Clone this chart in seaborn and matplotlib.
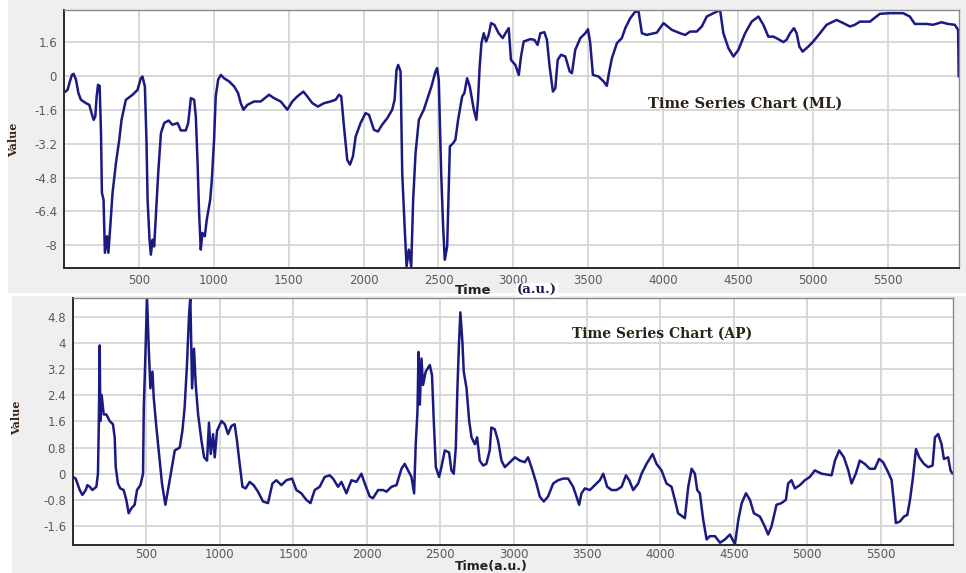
import numpy as np                      # arrays
import pandas as pd                     # data frames for seaborn
import matplotlib
matplotlib.use("Agg")
import matplotlib.pyplot as plt         # plotting
import seaborn as sns                   # line plots
from matplotlib.patches import Rectangle

# ---- data ----
ml_time = [0, 24, 36, 53, 64, 80, 96, 113, 147, 169, 184, 198, 209, 218, 227, 238, 247, 253, 264, 273,
           287, 296, 309, 324, 347, 369, 384, 413, 458, 491, 513, 524, 540, 551, 558, 571, 580, 591, 602, 613,
           629, 647, 669, 698, 724, 758, 780, 813, 829, 847, 869, 880, 891, 902, 913, 924, 940, 953, 976, 987,
           1002, 1013, 1029, 1047, 1069, 1102, 1136, 1162, 1180, 1198, 1224, 1269, 1313, 1369, 1402, 1447, 1491, 1524, 1558, 1598,
           1624, 1658, 1695, 1736, 1780, 1813, 1836, 1851, 1869, 1891, 1909, 1929, 1947, 1980, 2013, 2036, 2069, 2096, 2124, 2158,
           2191, 2207, 2220, 2231, 2247, 2258, 2275, 2287, 2302, 2318, 2331, 2347, 2369, 2402, 2424, 2453, 2480, 2491, 2502, 2518,
           2531, 2542, 2558, 2576, 2598, 2613, 2631, 2658, 2673, 2691, 2709, 2736, 2753, 2764, 2775, 2787, 2802, 2818, 2835, 2851,
           2873, 2902, 2929, 2947, 2969, 2984, 3013, 3036, 3051, 3069, 3113, 3140, 3162, 3180, 3207, 3224, 3242, 3264, 3280, 3296,
           3318, 3347, 3376, 3391, 3413, 3447, 3480, 3498, 3513, 3531, 3569, 3602, 3624, 3638, 3658, 3691, 3724, 3747, 3780, 3813,
           3836, 3858, 3891, 3913, 3958, 4002, 4058, 4113, 4147, 4180, 4224, 4258, 4291, 4336, 4380, 4402, 4436, 4469, 4502, 4547,
           4591, 4636, 4669, 4702, 4736, 4769, 4802, 4824, 4847, 4873, 4891, 4909, 4931, 4969, 5002, 5047, 5091, 5158, 5202, 5247,
           5280, 5313, 5380, 5447, 5513, 5602, 5647, 5680, 5758, 5802, 5858, 5902, 5947, 5969, 5973]
ml_value = [-0.78, -0.65, -0.33, 0.06, 0.11, -0.17, -0.8, -1.12, -1.28, -1.36, -1.75, -2.07, -1.91, -0.96, -0.41, -0.46, -2.68, -5.52, -5.85, -8.36,
            -7.58, -8.36, -7.11, -5.53, -4.1, -3.01, -2.07, -1.12, -0.88, -0.65, -0.1, -0.02, -0.49, -3.17, -5.85, -7.74, -8.45, -7.74, -8.06, -6.64,
            -4.59, -2.7, -2.22, -2.1, -2.3, -2.22, -2.57, -2.57, -2.22, -1.04, -1.12, -1.91, -3.96, -6.48, -8.21, -7.42, -7.58, -6.8, -5.85, -4.9,
            -3.01, -0.96, -0.17, 0.06, -0.1, -0.25, -0.49, -0.8, -1.28, -1.59, -1.36, -1.2, -1.2, -0.88, -1.04, -1.2, -1.59, -1.2, -0.96, -0.73,
            -0.96, -1.28, -1.44, -1.28, -1.2, -1.12, -0.88, -0.96, -2.38, -3.96, -4.19, -3.8, -2.86, -2.22, -1.75, -1.83, -2.54, -2.62, -2.3, -1.99,
            -1.59, -1.12, 0.3, 0.53, 0.22, -4.59, -7.27, -9.0, -8.21, -9.0, -5.85, -3.64, -2.07, -1.59, -1.12, -0.49, 0.22, 0.38, -0.17, -4.59,
            -7.11, -8.69, -8.06, -3.33, -3.17, -3.01, -2.07, -0.96, -0.8, -0.1, -0.49, -1.59, -2.07, -1.12, 0.45, 1.56, 2.03, 1.64, 1.95, 2.51,
            2.43, 2.03, 1.8, 2.03, 2.27, 0.77, 0.53, 0.06, 0.93, 1.64, 1.75, 1.72, 1.48, 2.03, 2.08, 1.72, 0.45, -0.73, -0.57, 0.77,
            1.01, 0.93, 0.22, 0.14, 1.24, 1.8, 2.03, 2.22, 1.56, 0.06, -0.02, -0.25, -0.46, 0.14, 0.85, 1.56, 1.8, 2.27, 2.74, 3.05,
            3.05, 2.03, 1.95, 1.99, 2.06, 2.51, 2.19, 2.03, 1.95, 2.11, 2.11, 2.35, 2.82, 2.98, 3.13, 2.03, 1.32, 0.93, 1.24, 2.03,
            2.58, 2.82, 2.43, 1.87, 1.87, 1.75, 1.61, 1.72, 2.03, 2.27, 2.03, 1.4, 1.16, 1.4, 1.64, 2.03, 2.43, 2.66, 2.51, 2.35,
            2.43, 2.58, 2.58, 2.95, 2.98, 2.98, 2.82, 2.47, 2.47, 2.43, 2.55, 2.47, 2.43, 2.19, -0.02]

ap_time = [0, 18, 46, 64, 87, 98, 114, 132, 159, 170, 176, 182, 186, 195, 209, 227, 250, 272, 284, 291,
           306, 322, 345, 363, 379, 397, 420, 436, 459, 477, 482, 493, 504, 516, 527, 541, 550, 568, 586, 606,
           629, 647, 670, 693, 727, 745, 760, 776, 790, 799, 811, 824, 836, 852, 875, 893, 913, 926, 938, 954,
           965, 981, 1011, 1034, 1056, 1079, 1101, 1117, 1135, 1154, 1176, 1203, 1230, 1260, 1294, 1328, 1358, 1385, 1419, 1453,
           1492, 1521, 1555, 1589, 1617, 1646, 1680, 1714, 1748, 1771, 1805, 1828, 1862, 1896, 1930, 1964, 1987, 2021, 2043, 2078,
           2112, 2135, 2169, 2203, 2237, 2259, 2282, 2305, 2323, 2334, 2346, 2353, 2362, 2373, 2384, 2402, 2430, 2445, 2457, 2471,
           2493, 2509, 2532, 2561, 2577, 2593, 2607, 2618, 2629, 2638, 2652, 2661, 2680, 2698, 2714, 2737, 2752, 2770, 2793, 2815,
           2838, 2849, 2872, 2895, 2918, 2941, 2975, 3010, 3043, 3077, 3099, 3122, 3156, 3179, 3206, 3235, 3270, 3304, 3338, 3372,
           3406, 3429, 3447, 3463, 3486, 3520, 3554, 3588, 3611, 3638, 3668, 3702, 3736, 3766, 3788, 3815, 3849, 3872, 3906, 3947,
           3974, 4008, 4042, 4076, 4099, 4121, 4167, 4190, 4213, 4235, 4251, 4269, 4292, 4315, 4337, 4372, 4406, 4440, 4474, 4508,
           4531, 4554, 4583, 4610, 4637, 4678, 4711, 4734, 4757, 4791, 4825, 4855, 4870, 4893, 4916, 4950, 4984, 5018, 5052, 5098,
           5166, 5189, 5218, 5250, 5280, 5302, 5331, 5358, 5392, 5426, 5460, 5490, 5517, 5551, 5575, 5591, 5604, 5632, 5659, 5682,
           5700, 5718, 5741, 5763, 5795, 5824, 5854, 5870, 5892, 5915, 5931, 5960, 5976, 5990]
ap_value = [-0.1, -0.15, -0.5, -0.65, -0.5, -0.35, -0.4, -0.5, -0.4, 0.0, 1.6, 3.92, 1.61, 2.41, 1.81, 1.81, 1.61, 1.51, 1.11, 0.2,
            -0.3, -0.45, -0.5, -0.8, -1.21, -1.06, -0.95, -0.5, -0.35, 0.0, 2.01, 3.62, 5.4, 3.82, 2.61, 3.12, 2.31, 1.41, 0.6, -0.3,
            -0.95, -0.5, 0.1, 0.71, 0.8, 1.31, 2.01, 3.32, 4.82, 5.4, 2.61, 3.82, 2.71, 1.81, 1.0, 0.5, 0.4, 1.56, 0.6, 1.21,
            0.5, 1.31, 1.61, 1.51, 1.21, 1.46, 1.51, 1.0, 0.3, -0.4, -0.45, -0.25, -0.35, -0.55, -0.85, -0.9, -0.3, -0.2, -0.35, -0.2,
            -0.15, -0.5, -0.6, -0.8, -0.9, -0.5, -0.4, -0.1, -0.05, -0.15, -0.4, -0.25, -0.6, -0.2, -0.25, 0.0, -0.3, -0.7, -0.75, -0.5,
            -0.5, -0.55, -0.4, -0.35, 0.15, 0.3, 0.1, -0.1, -0.6, 0.9, 1.91, 3.72, 2.11, 3.52, 2.71, 3.12, 3.32, 3.01, 1.61, 0.2,
            -0.1, 0.2, 0.71, 0.65, 0.1, 0.0, 0.8, 2.61, 4.02, 4.93, 4.02, 3.12, 2.61, 1.61, 1.11, 0.9, 1.11, 0.4, 0.25, 0.3,
            0.71, 1.41, 1.36, 1.0, 0.4, 0.2, 0.35, 0.5, 0.4, 0.35, 0.5, 0.2, -0.3, -0.7, -0.85, -0.7, -0.3, -0.2, -0.15, -0.15,
            -0.4, -0.7, -0.95, -0.6, -0.45, -0.5, -0.35, -0.2, 0.0, -0.4, -0.5, -0.5, -0.4, -0.05, -0.2, -0.5, -0.3, 0.0, 0.3, 0.6,
            0.3, 0.1, -0.3, -0.4, -0.8, -1.21, -1.36, -0.4, 0.15, 0.0, -0.5, -0.6, -1.41, -2.01, -1.91, -1.91, -2.11, -2.01, -1.86, -2.16,
            -1.41, -0.9, -0.6, -0.8, -1.21, -1.31, -1.61, -1.86, -1.61, -0.95, -0.9, -0.8, -0.3, -0.2, -0.45, -0.35, -0.2, -0.1, 0.1, 0.0,
            -0.05, 0.4, 0.71, 0.5, 0.1, -0.3, 0.0, 0.4, 0.3, 0.15, 0.15, 0.45, 0.35, 0.05, -0.2, -0.9, -1.51, -1.46, -1.31, -1.26,
            -0.8, -0.2, 0.75, 0.5, 0.3, 0.2, 0.25, 1.11, 1.21, 0.9, 0.45, 0.5, 0.1, 0.0]

x_ticks = [500, 1000, 1500, 2000, 2500, 3000, 3500, 4000, 4500, 5000, 5500]
ml_yticks = [1.6, 0, -1.6, -3.2, -4.8, -6.4, -8]
ap_yticks = [4.8, 4, 3.2, 2.4, 1.6, 0.8, 0, -0.8, -1.6]

line_color = "#1a1a82"
panel_grey = "#efefef"

sns.set_style("white")
plt.rcParams["font.family"] = ["DejaVu Sans"]

fig = plt.figure(figsize=(9.66, 5.73), dpi=100)
fig.patch.set_facecolor("white")
# grey frames behind each chart, like the original screenshots
fig.patches.append(Rectangle((8 / 966, 280 / 573), 958 / 966, 293 / 573, transform=fig.transFigure,
                             facecolor=panel_grey, edgecolor="none", zorder=-10))
fig.patches.append(Rectangle((12 / 966, 0), 954 / 966, 277 / 573, transform=fig.transFigure,
                             facecolor=panel_grey, edgecolor="none", zorder=-10))

ax1 = fig.add_axes([64 / 966, 305 / 573, 895 / 966, 258 / 573])
ax2 = fig.add_axes([73 / 966, 28 / 573, 880 / 966, 247 / 573])

df_ml = pd.DataFrame({"time": ml_time, "value": ml_value})
df_ap = pd.DataFrame({"time": ap_time, "value": ap_value})

sns.lineplot(data=df_ml, x="time", y="value", ax=ax1, color=line_color, linewidth=1.8,
             estimator=None, sort=False)
sns.lineplot(data=df_ap, x="time", y="value", ax=ax2, color=line_color, linewidth=1.8,
             estimator=None, sort=False)


def style_axis(ax, yticks, xlim, ylim, xpad):
    ax.set_facecolor("white")
    ax.set_xlim(*xlim)
    ax.set_ylim(*ylim)
    ax.set_xticks(x_ticks)
    ax.set_yticks(yticks)
    ax.set_yticklabels([("%g" % t) for t in yticks])
    ax.grid(True, color="#d6d6d6", linewidth=1.3)
    ax.set_axisbelow(True)
    ax.set_xlabel("")
    ax.set_ylabel("")
    ax.tick_params(axis="both", labelsize=8.5, labelcolor="#5a5a5a", colors="#333333",
                   length=3, width=0.8, pad=2)
    ax.tick_params(axis="x", length=0, pad=xpad)
    for side in ["left", "bottom"]:
        ax.spines[side].set_color("#2a2a2a")
        ax.spines[side].set_linewidth(1.4)
    for side in ["top", "right"]:
        ax.spines[side].set_color("#8a8a8a")
        ax.spines[side].set_linewidth(1.0)


style_axis(ax1, ml_yticks, (0, 5975), (-9.08, 3.13), 4)
style_axis(ax2, ap_yticks, (0, 5993), (-2.18, 5.37), 2)

# chart titles drawn inside the plot area
ax1.text(0.652, 0.636, "Time Series Chart (ML)", transform=ax1.transAxes, ha="left", va="center",
         fontsize=10.5, fontweight="bold", family="DejaVu Serif", color="#2b2217")
ax2.text(0.567, 0.856, "Time Series Chart (AP)", transform=ax2.transAxes, ha="left", va="center",
         fontsize=10, fontweight="bold", family="DejaVu Serif", color="#2b2217")

# axis labels
fig.text(14 / 966, 1 - 140 / 573, "Value", rotation=90, ha="center", va="center",
         fontsize=8, fontweight="bold", family="DejaVu Serif", color="#3a2418")
fig.text(17 / 966, 1 - 418 / 573, "Value", rotation=90, ha="center", va="center",
         fontsize=8, fontweight="bold", family="DejaVu Serif", color="#3a2418")
fig.text(455 / 966, 1 - 290 / 573, "Time", ha="left", va="center",
         fontsize=9.5, fontweight="bold", color="#222222")
fig.text(517 / 966, 1 - 290 / 573, "(a.u.)", ha="left", va="center",
         fontsize=9.5, fontweight="bold", family="DejaVu Serif", color="#1a1a50",
         bbox=dict(facecolor="white", edgecolor="none", pad=0.5))
fig.text(455 / 966, 1 - 566.5 / 573, "Time(a.u.)", ha="left", va="center",
         fontsize=9, fontweight="bold", color="#222222")

fig.savefig("out.png", dpi=100)
plt.close(fig)
